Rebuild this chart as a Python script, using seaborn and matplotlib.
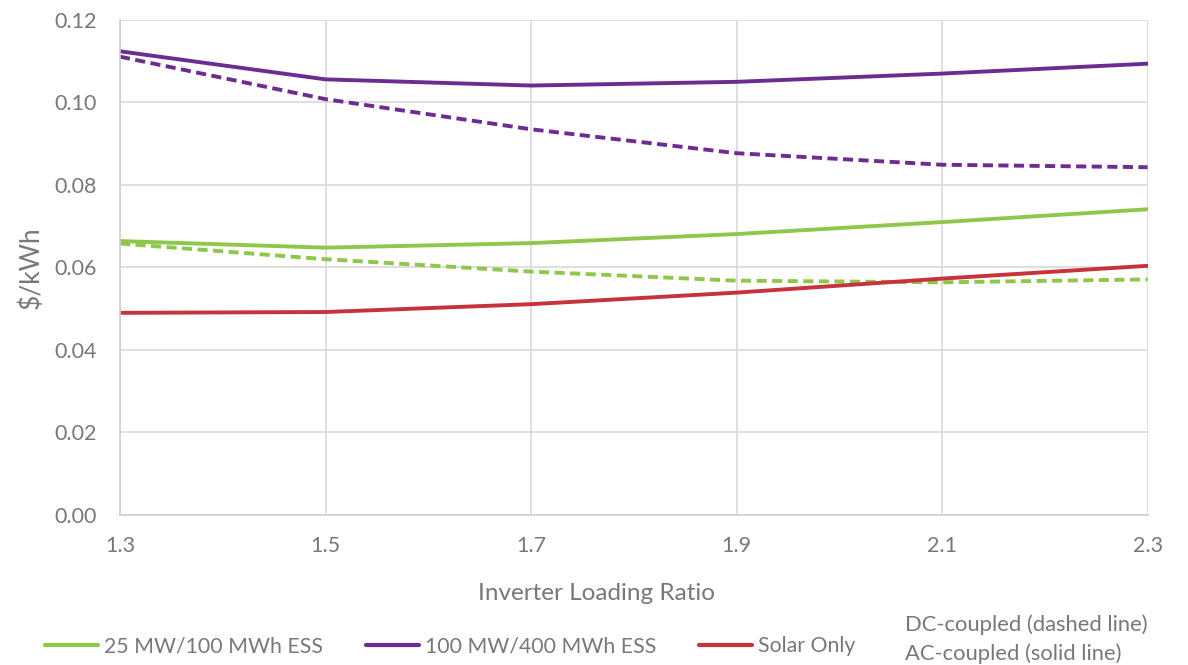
import pandas as pd
import matplotlib.pyplot as plt
import seaborn as sns
from matplotlib.lines import Line2D

# inverter loading ratio
ilr = [1.3, 1.5, 1.7, 1.9, 2.1, 2.3]

# $/kWh
ess25_ac = [0.0664, 0.0648, 0.0659, 0.0681, 0.0710, 0.0741]
ess25_dc = [0.0658, 0.0620, 0.0590, 0.0568, 0.0564, 0.0571]
ess100_ac = [0.1124, 0.1056, 0.1041, 0.1050, 0.1070, 0.1094]
ess100_dc = [0.1111, 0.1008, 0.0935, 0.0877, 0.0849, 0.0843]
solar_only = [0.0490, 0.0492, 0.0511, 0.0539, 0.0573, 0.0604]

series_names = ["25 MW/100 MWh ESS", "100 MW/400 MWh ESS", "Solar Only"]
y_ticks = [0.00, 0.02, 0.04, 0.06, 0.08, 0.10, 0.12]

rows = []
for name, coupling, vals in [
    (series_names[0], "AC", ess25_ac),
    (series_names[0], "DC", ess25_dc),
    (series_names[1], "AC", ess100_ac),
    (series_names[1], "DC", ess100_dc),
    (series_names[2], "AC", solar_only),
]:
    for x, v in zip(ilr, vals):
        rows.append({"ilr": x, "lcoe": v, "system": name, "coupling": coupling})
df = pd.DataFrame(rows)

colors = {series_names[0]: "#8DC84A", series_names[1]: "#6B2D91", series_names[2]: "#C8323A"}
txt = "#787878"

sns.set_theme(style="white")
plt.rcParams["font.family"] = ["Lato", "DejaVu Sans"]

fig = plt.figure(figsize=(11.88, 6.65), dpi=100)
ax = fig.add_axes([0.101, 0.2256, 0.865, 0.7444])

sns.lineplot(data=df, x="ilr", y="lcoe", hue="system", style="coupling",
             palette=colors, dashes={"AC": "", "DC": (2.6, 1.4)},
             linewidth=2.8, ax=ax, legend=False)

ax.set_xlim(1.3, 2.3)
ax.set_ylim(0, 0.12)
ax.set_xticks(ilr)
ax.set_xticklabels([f"{x:.1f}" for x in ilr])
ax.set_yticks(y_ticks)
ax.set_yticklabels([f"{y:.2f}" for y in y_ticks])
ax.grid(True, color="#d9d9d9", linewidth=1.2)
ax.set_axisbelow(True)
for s in ["top", "right"]:
    ax.spines[s].set_visible(False)
for s in ["left", "bottom"]:
    ax.spines[s].set_color("#d0d0d0")
    ax.spines[s].set_linewidth(1.2)
ax.tick_params(axis="both", colors=txt, labelsize=15.5, length=0)
ax.tick_params(axis="y", pad=16.5)
ax.tick_params(axis="x", pad=15)
ax.set_xlabel("Inverter Loading Ratio", color=txt, fontsize=17.5, va="center")
ax.xaxis.set_label_coords(0.464, -0.158)
ax.set_ylabel("$/kWh", color=txt, fontsize=19, labelpad=8)

handles = [Line2D([0], [0], color=colors[n], lw=3) for n in series_names]
fig.legend(handles, series_names, loc="center left", bbox_to_anchor=(0.0379, 0.028),
           ncol=3, frameon=False, fontsize=15.3, labelcolor=txt,
           borderpad=0, borderaxespad=0,
           handlelength=2.5, handletextpad=0.28, columnspacing=2.0)

fig.text(0.762, 0.06, "DC-coupled (dashed line)", color=txt, fontsize=15.8, va="center")
fig.text(0.762, 0.017, "AC-coupled (solid line)", color=txt, fontsize=15.8, va="center")

fig.savefig("out.png", dpi=100)
